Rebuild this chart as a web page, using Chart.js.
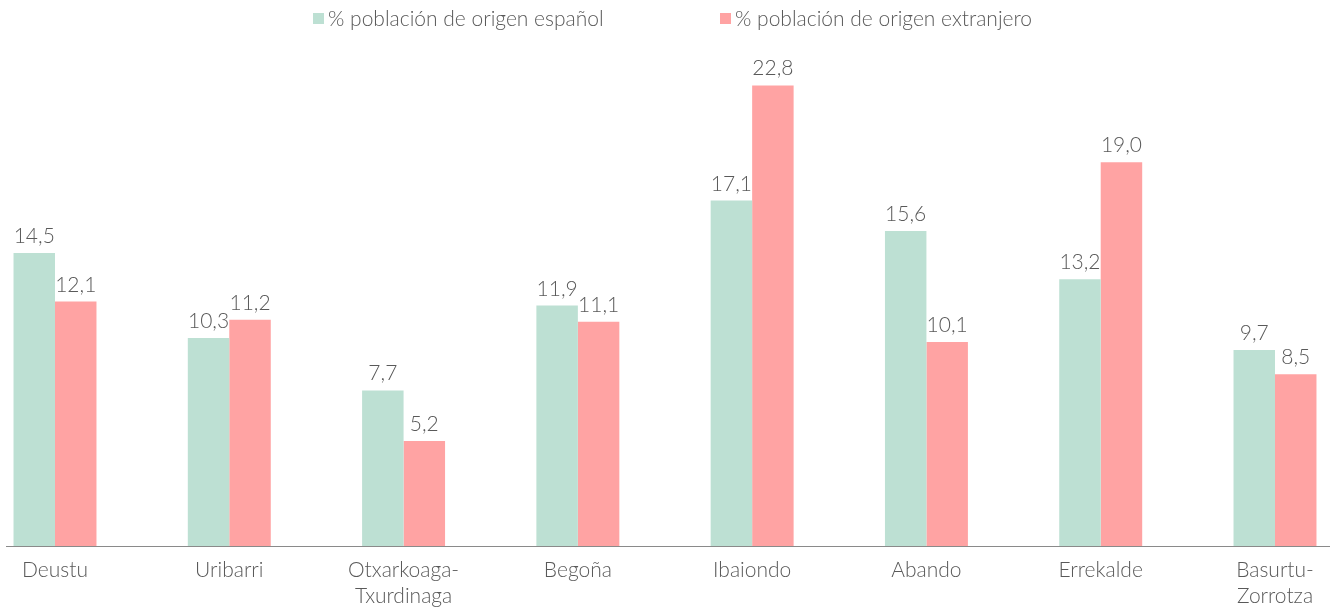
<!DOCTYPE html>
<html>
<head>
<meta charset="utf-8">
<script src="https://cdn.jsdelivr.net/npm/chart.js@4"></script>
<style>
html,body{margin:0;padding:0;background:#fff;}
#wrap{width:1330px;height:607px;position:relative;}
</style>
</head>
<body>
<div id="wrap"><canvas id="c"></canvas></div>
<script>
const categories = ["Deustu", "Uribarri", ["Otxarkoaga-", "Txurdinaga"], "Begoña", "Ibaiondo", "Abando", "Errekalde", ["Basurtu-", "Zorrotza"]];
const seriesNames = ["% población de origen español", "% población de origen extranjero"];
const espanol = [14.5, 10.3, 7.7, 11.9, 17.1, 15.6, 13.2, 9.7];
const extranjero = [12.1, 11.2, 5.2, 11.1, 22.8, 10.1, 19.0, 8.5];

const GREEN = "#BDE0D3";
const PINK = "#FFA3A3";
const TEXT = "#595959";
const FONT = "Lato, 'Open Sans', sans-serif";

const valueLabels = {
  id: "valueLabels",
  afterDatasetsDraw(chart) {
    const ctx = chart.ctx;
    ctx.save();
    ctx.font = "300 21px " + FONT;
    ctx.fillStyle = TEXT;
    ctx.textAlign = "center";
    ctx.textBaseline = "alphabetic";
    chart.data.datasets.forEach((ds, di) => {
      const meta = chart.getDatasetMeta(di);
      meta.data.forEach((bar, i) => {
        const txt = ds.data[i].toFixed(1).replace(".", ",");
        ctx.fillText(txt, bar.x, bar.y - 10);
      });
    });
    ctx.restore();
  }
};

const baseline = {
  id: "baseline",
  afterDatasetsDraw(chart) {
    const ctx = chart.ctx;
    const y = Math.round(chart.scales.y.getPixelForValue(0)) + 0.5;
    ctx.save();
    ctx.strokeStyle = "#8a8a8a";
    ctx.lineWidth = 1;
    ctx.beginPath();
    ctx.moveTo(6, y);
    ctx.lineTo(chart.width, y);
    ctx.stroke();
    ctx.restore();
  }
};

const topLegend = {
  id: "topLegend",
  afterDraw(chart) {
    const ctx = chart.ctx;
    const colors = [GREEN, PINK];
    const xs = [313, 720];
    ctx.save();
    ctx.font = "300 21px " + FONT;
    ctx.textBaseline = "middle";
    ctx.textAlign = "left";
    seriesNames.forEach((name, i) => {
      ctx.fillStyle = colors[i];
      ctx.fillRect(xs[i], 13, 11, 11);
      ctx.fillStyle = TEXT;
      ctx.fillText(name, xs[i] + 15, 19);
    });
    ctx.restore();
  }
};

new Chart(document.getElementById("c"), {
  type: "bar",
  data: {
    labels: categories,
    datasets: [
      { label: seriesNames[0], data: espanol, backgroundColor: GREEN, clip: false },
      { label: seriesNames[1], data: extranjero, backgroundColor: PINK, clip: false }
    ]
  },
  options: {
    responsive: true,
    maintainAspectRatio: false,
    animation: false,
    datasets: { bar: { barPercentage: 1, categoryPercentage: 0.476 } },
    layout: { padding: { left: 55, right: 55, top: 41, bottom: 0 } },
    plugins: { legend: { display: false }, tooltip: { enabled: false } },
    scales: {
      x: {
        offset: false,
        grid: { display: false, drawTicks: false },
        border: { display: false },
        ticks: {
          color: TEXT,
          font: { family: FONT, size: 21, weight: "300", lineHeight: 1.25 },
          padding: 11,
          maxRotation: 0,
          autoSkip: false
        },
        afterFit(scale) { scale.height = 61; }
      },
      y: {
        display: false,
        min: 0,
        max: 25
      }
    }
  },
  plugins: [valueLabels, baseline, topLegend]
});
</script>
</body>
</html>
